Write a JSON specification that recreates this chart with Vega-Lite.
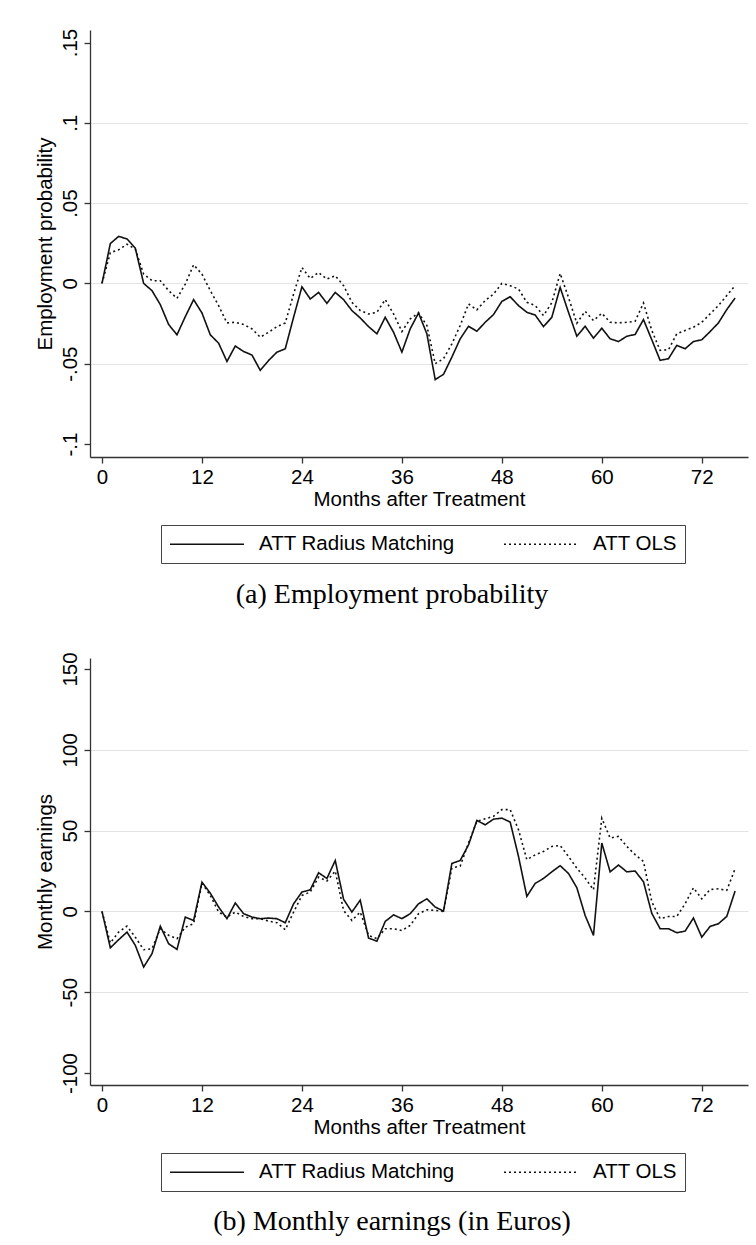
{
  "$schema": "https://vega.github.io/schema/vega-lite/v6.json",
  "background": "white",
  "padding": {"left": 34, "top": 28, "right": 8, "bottom": 1},
  "spacing": 42,
  "config": {
    "view": {"stroke": null},
    "font": "Liberation Sans",
    "axis": {
      "labelFont": "Liberation Sans", "titleFont": "Liberation Sans",
      "labelFontSize": 20.5, "titleFontSize": 20.5, "titleFontWeight": "normal",
      "labelColor": "#000", "titleColor": "#000",
      "domainColor": "#333", "domainWidth": 1.3, "tickColor": "#333", "tickWidth": 1.3, "tickSize": 6,
      "gridColor": "#e3e3e3", "gridWidth": 1.2
    },
    "legend": {"labelFont": "Liberation Sans"},
    "title": {"font": "Liberation Serif", "fontWeight": "normal"}
  },
  "datasets": {
    "emp": [
      {"m":0,"s":"ATT Radius Matching","v":0},{"m":1,"s":"ATT Radius Matching","v":0.0248},{"m":2,"s":"ATT Radius Matching","v":0.0293},{"m":3,"s":"ATT Radius Matching","v":0.0277},{"m":4,"s":"ATT Radius Matching","v":0.0219},{"m":5,"s":"ATT Radius Matching","v":0.0},{"m":6,"s":"ATT Radius Matching","v":-0.0045},{"m":7,"s":"ATT Radius Matching","v":-0.0132},{"m":8,"s":"ATT Radius Matching","v":-0.0256},{"m":9,"s":"ATT Radius Matching","v":-0.032},{"m":10,"s":"ATT Radius Matching","v":-0.0207},{"m":11,"s":"ATT Radius Matching","v":-0.0101},{"m":12,"s":"ATT Radius Matching","v":-0.0184},{"m":13,"s":"ATT Radius Matching","v":-0.032},{"m":14,"s":"ATT Radius Matching","v":-0.0372},{"m":15,"s":"ATT Radius Matching","v":-0.0486},{"m":16,"s":"ATT Radius Matching","v":-0.039},{"m":17,"s":"ATT Radius Matching","v":-0.0424},{"m":18,"s":"ATT Radius Matching","v":-0.0446},{"m":19,"s":"ATT Radius Matching","v":-0.0541},{"m":20,"s":"ATT Radius Matching","v":-0.048},{"m":21,"s":"ATT Radius Matching","v":-0.0428},{"m":22,"s":"ATT Radius Matching","v":-0.0407},{"m":23,"s":"ATT Radius Matching","v":-0.0211},{"m":24,"s":"ATT Radius Matching","v":-0.0021},{"m":25,"s":"ATT Radius Matching","v":-0.0097},{"m":26,"s":"ATT Radius Matching","v":-0.0056},{"m":27,"s":"ATT Radius Matching","v":-0.0124},{"m":28,"s":"ATT Radius Matching","v":-0.0056},{"m":29,"s":"ATT Radius Matching","v":-0.0101},{"m":30,"s":"ATT Radius Matching","v":-0.0169},{"m":31,"s":"ATT Radius Matching","v":-0.0215},{"m":32,"s":"ATT Radius Matching","v":-0.0269},{"m":33,"s":"ATT Radius Matching","v":-0.0314},{"m":34,"s":"ATT Radius Matching","v":-0.0211},{"m":35,"s":"ATT Radius Matching","v":-0.0304},{"m":36,"s":"ATT Radius Matching","v":-0.0428},{"m":37,"s":"ATT Radius Matching","v":-0.0283},{"m":38,"s":"ATT Radius Matching","v":-0.0184},{"m":39,"s":"ATT Radius Matching","v":-0.0314},{"m":40,"s":"ATT Radius Matching","v":-0.0599},{"m":41,"s":"ATT Radius Matching","v":-0.0566},{"m":42,"s":"ATT Radius Matching","v":-0.0459},{"m":43,"s":"ATT Radius Matching","v":-0.0345},{"m":44,"s":"ATT Radius Matching","v":-0.0267},{"m":45,"s":"ATT Radius Matching","v":-0.0298},{"m":46,"s":"ATT Radius Matching","v":-0.0242},{"m":47,"s":"ATT Radius Matching","v":-0.0194},{"m":48,"s":"ATT Radius Matching","v":-0.0112},{"m":49,"s":"ATT Radius Matching","v":-0.0083},{"m":50,"s":"ATT Radius Matching","v":-0.0138},{"m":51,"s":"ATT Radius Matching","v":-0.018},{"m":52,"s":"ATT Radius Matching","v":-0.0197},{"m":53,"s":"ATT Radius Matching","v":-0.0269},{"m":54,"s":"ATT Radius Matching","v":-0.0211},{"m":55,"s":"ATT Radius Matching","v":-0.0025},{"m":56,"s":"ATT Radius Matching","v":-0.018},{"m":57,"s":"ATT Radius Matching","v":-0.0329},{"m":58,"s":"ATT Radius Matching","v":-0.0267},{"m":59,"s":"ATT Radius Matching","v":-0.0341},{"m":60,"s":"ATT Radius Matching","v":-0.0279},{"m":61,"s":"ATT Radius Matching","v":-0.0345},{"m":62,"s":"ATT Radius Matching","v":-0.0362},{"m":63,"s":"ATT Radius Matching","v":-0.0329},{"m":64,"s":"ATT Radius Matching","v":-0.0318},{"m":65,"s":"ATT Radius Matching","v":-0.0225},{"m":66,"s":"ATT Radius Matching","v":-0.0351},{"m":67,"s":"ATT Radius Matching","v":-0.0479},{"m":68,"s":"ATT Radius Matching","v":-0.0469},{"m":69,"s":"ATT Radius Matching","v":-0.0386},{"m":70,"s":"ATT Radius Matching","v":-0.0407},{"m":71,"s":"ATT Radius Matching","v":-0.0362},{"m":72,"s":"ATT Radius Matching","v":-0.0351},{"m":73,"s":"ATT Radius Matching","v":-0.03},{"m":74,"s":"ATT Radius Matching","v":-0.0246},{"m":75,"s":"ATT Radius Matching","v":-0.0163},{"m":76,"s":"ATT Radius Matching","v":-0.0091},
      {"m":0,"s":"ATT OLS","v":0},{"m":1,"s":"ATT OLS","v":0.0192},{"m":2,"s":"ATT OLS","v":0.0209},{"m":3,"s":"ATT OLS","v":0.0244},{"m":4,"s":"ATT OLS","v":0.0213},{"m":5,"s":"ATT OLS","v":0.0058},{"m":6,"s":"ATT OLS","v":0.0017},{"m":7,"s":"ATT OLS","v":0.0017},{"m":8,"s":"ATT OLS","v":-0.0045},{"m":9,"s":"ATT OLS","v":-0.0093},{"m":10,"s":"ATT OLS","v":-0.0004},{"m":11,"s":"ATT OLS","v":0.0116},{"m":12,"s":"ATT OLS","v":0.0058},{"m":13,"s":"ATT OLS","v":-0.0045},{"m":14,"s":"ATT OLS","v":-0.0138},{"m":15,"s":"ATT OLS","v":-0.0246},{"m":16,"s":"ATT OLS","v":-0.0242},{"m":17,"s":"ATT OLS","v":-0.0256},{"m":18,"s":"ATT OLS","v":-0.0283},{"m":19,"s":"ATT OLS","v":-0.0335},{"m":20,"s":"ATT OLS","v":-0.0304},{"m":21,"s":"ATT OLS","v":-0.0269},{"m":22,"s":"ATT OLS","v":-0.0246},{"m":23,"s":"ATT OLS","v":-0.0066},{"m":24,"s":"ATT OLS","v":0.0099},{"m":25,"s":"ATT OLS","v":0.0031},{"m":26,"s":"ATT OLS","v":0.0068},{"m":27,"s":"ATT OLS","v":0.0027},{"m":28,"s":"ATT OLS","v":0.0048},{"m":29,"s":"ATT OLS","v":-0.0014},{"m":30,"s":"ATT OLS","v":-0.0118},{"m":31,"s":"ATT OLS","v":-0.0169},{"m":32,"s":"ATT OLS","v":-0.019},{"m":33,"s":"ATT OLS","v":-0.018},{"m":34,"s":"ATT OLS","v":-0.0101},{"m":35,"s":"ATT OLS","v":-0.019},{"m":36,"s":"ATT OLS","v":-0.03},{"m":37,"s":"ATT OLS","v":-0.0221},{"m":38,"s":"ATT OLS","v":-0.0184},{"m":39,"s":"ATT OLS","v":-0.0262},{"m":40,"s":"ATT OLS","v":-0.05},{"m":41,"s":"ATT OLS","v":-0.0469},{"m":42,"s":"ATT OLS","v":-0.0376},{"m":43,"s":"ATT OLS","v":-0.0262},{"m":44,"s":"ATT OLS","v":-0.0128},{"m":45,"s":"ATT OLS","v":-0.0165},{"m":46,"s":"ATT OLS","v":-0.0107},{"m":47,"s":"ATT OLS","v":-0.0066},{"m":48,"s":"ATT OLS","v":0.0},{"m":49,"s":"ATT OLS","v":-0.0014},{"m":50,"s":"ATT OLS","v":-0.0035},{"m":51,"s":"ATT OLS","v":-0.0118},{"m":52,"s":"ATT OLS","v":-0.0138},{"m":53,"s":"ATT OLS","v":-0.02},{"m":54,"s":"ATT OLS","v":-0.012},{"m":55,"s":"ATT OLS","v":0.0062},{"m":56,"s":"ATT OLS","v":-0.0087},{"m":57,"s":"ATT OLS","v":-0.0248},{"m":58,"s":"ATT OLS","v":-0.0174},{"m":59,"s":"ATT OLS","v":-0.0231},{"m":60,"s":"ATT OLS","v":-0.0186},{"m":61,"s":"ATT OLS","v":-0.0242},{"m":62,"s":"ATT OLS","v":-0.0246},{"m":63,"s":"ATT OLS","v":-0.0242},{"m":64,"s":"ATT OLS","v":-0.0236},{"m":65,"s":"ATT OLS","v":-0.0122},{"m":66,"s":"ATT OLS","v":-0.0293},{"m":67,"s":"ATT OLS","v":-0.0417},{"m":68,"s":"ATT OLS","v":-0.0413},{"m":69,"s":"ATT OLS","v":-0.0314},{"m":70,"s":"ATT OLS","v":-0.0293},{"m":71,"s":"ATT OLS","v":-0.0273},{"m":72,"s":"ATT OLS","v":-0.0242},{"m":73,"s":"ATT OLS","v":-0.019},{"m":74,"s":"ATT OLS","v":-0.0138},{"m":75,"s":"ATT OLS","v":-0.0076},{"m":76,"s":"ATT OLS","v":-0.0014}
    ],
    "earn": [
      {"m":0,"s":"ATT Radius Matching","v":0},{"m":1,"s":"ATT Radius Matching","v":-22.5},{"m":2,"s":"ATT Radius Matching","v":-17.5},{"m":3,"s":"ATT Radius Matching","v":-12.8},{"m":4,"s":"ATT Radius Matching","v":-21},{"m":5,"s":"ATT Radius Matching","v":-34.4},{"m":6,"s":"ATT Radius Matching","v":-26.2},{"m":7,"s":"ATT Radius Matching","v":-9.1},{"m":8,"s":"ATT Radius Matching","v":-20},{"m":9,"s":"ATT Radius Matching","v":-23.5},{"m":10,"s":"ATT Radius Matching","v":-3.5},{"m":11,"s":"ATT Radius Matching","v":-5.6},{"m":12,"s":"ATT Radius Matching","v":18.1},{"m":13,"s":"ATT Radius Matching","v":11.3},{"m":14,"s":"ATT Radius Matching","v":2.7},{"m":15,"s":"ATT Radius Matching","v":-4.5},{"m":16,"s":"ATT Radius Matching","v":5.2},{"m":17,"s":"ATT Radius Matching","v":-1.4},{"m":18,"s":"ATT Radius Matching","v":-3.5},{"m":19,"s":"ATT Radius Matching","v":-4.5},{"m":20,"s":"ATT Radius Matching","v":-4.1},{"m":21,"s":"ATT Radius Matching","v":-4.5},{"m":22,"s":"ATT Radius Matching","v":-7},{"m":23,"s":"ATT Radius Matching","v":4.7},{"m":24,"s":"ATT Radius Matching","v":12},{"m":25,"s":"ATT Radius Matching","v":13.4},{"m":26,"s":"ATT Radius Matching","v":23.9},{"m":27,"s":"ATT Radius Matching","v":20.4},{"m":28,"s":"ATT Radius Matching","v":31.5},{"m":29,"s":"ATT Radius Matching","v":7.5},{"m":30,"s":"ATT Radius Matching","v":-0.4},{"m":31,"s":"ATT Radius Matching","v":7},{"m":32,"s":"ATT Radius Matching","v":-16.5},{"m":33,"s":"ATT Radius Matching","v":-18.4},{"m":34,"s":"ATT Radius Matching","v":-6.2},{"m":35,"s":"ATT Radius Matching","v":-2.1},{"m":36,"s":"ATT Radius Matching","v":-4.5},{"m":37,"s":"ATT Radius Matching","v":-1.4},{"m":38,"s":"ATT Radius Matching","v":4.7},{"m":39,"s":"ATT Radius Matching","v":7.8},{"m":40,"s":"ATT Radius Matching","v":2.7},{"m":41,"s":"ATT Radius Matching","v":0.2},{"m":42,"s":"ATT Radius Matching","v":29.7},{"m":43,"s":"ATT Radius Matching","v":31.5},{"m":44,"s":"ATT Radius Matching","v":41.2},{"m":45,"s":"ATT Radius Matching","v":56.3},{"m":46,"s":"ATT Radius Matching","v":53.6},{"m":47,"s":"ATT Radius Matching","v":57.1},{"m":48,"s":"ATT Radius Matching","v":57.7},{"m":49,"s":"ATT Radius Matching","v":55.3},{"m":50,"s":"ATT Radius Matching","v":34},{"m":51,"s":"ATT Radius Matching","v":9.3},{"m":52,"s":"ATT Radius Matching","v":17.3},{"m":53,"s":"ATT Radius Matching","v":20.4},{"m":54,"s":"ATT Radius Matching","v":24.5},{"m":55,"s":"ATT Radius Matching","v":28.3},{"m":56,"s":"ATT Radius Matching","v":23.5},{"m":57,"s":"ATT Radius Matching","v":14.7},{"m":58,"s":"ATT Radius Matching","v":-2.5},{"m":59,"s":"ATT Radius Matching","v":-14.8},{"m":60,"s":"ATT Radius Matching","v":42.3},{"m":61,"s":"ATT Radius Matching","v":24.5},{"m":62,"s":"ATT Radius Matching","v":28.7},{"m":63,"s":"ATT Radius Matching","v":24.5},{"m":64,"s":"ATT Radius Matching","v":25},{"m":65,"s":"ATT Radius Matching","v":18.4},{"m":66,"s":"ATT Radius Matching","v":-1.2},{"m":67,"s":"ATT Radius Matching","v":-10.7},{"m":68,"s":"ATT Radius Matching","v":-10.7},{"m":69,"s":"ATT Radius Matching","v":-13.2},{"m":70,"s":"ATT Radius Matching","v":-12.2},{"m":71,"s":"ATT Radius Matching","v":-4.1},{"m":72,"s":"ATT Radius Matching","v":-15.9},{"m":73,"s":"ATT Radius Matching","v":-9.3},{"m":74,"s":"ATT Radius Matching","v":-7.6},{"m":75,"s":"ATT Radius Matching","v":-3.1},{"m":76,"s":"ATT Radius Matching","v":12.6},
      {"m":0,"s":"ATT OLS","v":0},{"m":1,"s":"ATT OLS","v":-19.5},{"m":2,"s":"ATT OLS","v":-12.8},{"m":3,"s":"ATT OLS","v":-9.1},{"m":4,"s":"ATT OLS","v":-15.9},{"m":5,"s":"ATT OLS","v":-23.7},{"m":6,"s":"ATT OLS","v":-23.1},{"m":7,"s":"ATT OLS","v":-10.7},{"m":8,"s":"ATT OLS","v":-14.8},{"m":9,"s":"ATT OLS","v":-16.9},{"m":10,"s":"ATT OLS","v":-9.7},{"m":11,"s":"ATT OLS","v":-7.6},{"m":12,"s":"ATT OLS","v":17.5},{"m":13,"s":"ATT OLS","v":9.9},{"m":14,"s":"ATT OLS","v":-0.4},{"m":15,"s":"ATT OLS","v":-3.5},{"m":16,"s":"ATT OLS","v":-0.4},{"m":17,"s":"ATT OLS","v":-3.1},{"m":18,"s":"ATT OLS","v":-4.5},{"m":19,"s":"ATT OLS","v":-4.5},{"m":20,"s":"ATT OLS","v":-6},{"m":21,"s":"ATT OLS","v":-7},{"m":22,"s":"ATT OLS","v":-11.3},{"m":23,"s":"ATT OLS","v":-0.4},{"m":24,"s":"ATT OLS","v":9.9},{"m":25,"s":"ATT OLS","v":12},{"m":26,"s":"ATT OLS","v":21.2},{"m":27,"s":"ATT OLS","v":18.8},{"m":28,"s":"ATT OLS","v":25},{"m":29,"s":"ATT OLS","v":0.6},{"m":30,"s":"ATT OLS","v":-5.6},{"m":31,"s":"ATT OLS","v":-0.4},{"m":32,"s":"ATT OLS","v":-14.8},{"m":33,"s":"ATT OLS","v":-16.9},{"m":34,"s":"ATT OLS","v":-10.7},{"m":35,"s":"ATT OLS","v":-10.7},{"m":36,"s":"ATT OLS","v":-11.8},{"m":37,"s":"ATT OLS","v":-8.7},{"m":38,"s":"ATT OLS","v":-1.4},{"m":39,"s":"ATT OLS","v":1},{"m":40,"s":"ATT OLS","v":0.6},{"m":41,"s":"ATT OLS","v":0},{"m":42,"s":"ATT OLS","v":27},{"m":43,"s":"ATT OLS","v":28},{"m":44,"s":"ATT OLS","v":42.3},{"m":45,"s":"ATT OLS","v":55.7},{"m":46,"s":"ATT OLS","v":57.3},{"m":47,"s":"ATT OLS","v":58.8},{"m":48,"s":"ATT OLS","v":63},{"m":49,"s":"ATT OLS","v":63},{"m":50,"s":"ATT OLS","v":50.5},{"m":51,"s":"ATT OLS","v":32},{"m":52,"s":"ATT OLS","v":35},{"m":53,"s":"ATT OLS","v":37.1},{"m":54,"s":"ATT OLS","v":40.2},{"m":55,"s":"ATT OLS","v":40.8},{"m":56,"s":"ATT OLS","v":34},{"m":57,"s":"ATT OLS","v":26.8},{"m":58,"s":"ATT OLS","v":20.6},{"m":59,"s":"ATT OLS","v":13.4},{"m":60,"s":"ATT OLS","v":57.7},{"m":61,"s":"ATT OLS","v":45.4},{"m":62,"s":"ATT OLS","v":46.4},{"m":63,"s":"ATT OLS","v":40.2},{"m":64,"s":"ATT OLS","v":35.1},{"m":65,"s":"ATT OLS","v":30.9},{"m":66,"s":"ATT OLS","v":6},{"m":67,"s":"ATT OLS","v":-4.5},{"m":68,"s":"ATT OLS","v":-3.1},{"m":69,"s":"ATT OLS","v":-3.1},{"m":70,"s":"ATT OLS","v":4.7},{"m":71,"s":"ATT OLS","v":14.6},{"m":72,"s":"ATT OLS","v":7.8},{"m":73,"s":"ATT OLS","v":13.6},{"m":74,"s":"ATT OLS","v":14},{"m":75,"s":"ATT OLS","v":13},{"m":76,"s":"ATT OLS","v":26.4}
    ]
  },
  "vconcat": [
    {
      "width": 658,
      "height": 427,
      "data": {"name": "emp"},
      "title": {"text": "(a) Employment probability", "orient": "bottom", "fontSize": 28, "offset": 17, "dx": -27, "color": "#000", "anchor": "middle"},
      "mark": {"type": "line", "strokeWidth": 1.6, "color": "#111"},
      "encoding": {
        "x": {"field": "m", "type": "quantitative", "scale": {"domain": [-1.44, 77.55], "nice": false, "zero": false},
              "axis": {"values": [0, 12, 24, 36, 48, 60, 72], "title": "Months after Treatment", "grid": false, "labelPadding": 4, "titlePadding": 2}},
        "y": {"field": "v", "type": "quantitative", "scale": {"domain": [-0.1081, 0.1578], "nice": false, "zero": false},
              "axis": {"values": [-0.1, -0.05, 0, 0.05, 0.1, 0.15], "title": "Employment probability",
                       "labelExpr": "(datum.value < 0 ? '-' : '') + replace(format(abs(datum.value), '.2~f'), '0.', '.')",
                       "labelAngle": 270, "labelAlign": "center", "labelBaseline": "bottom", "labelPadding": 4, "titlePadding": 5,
                       "gridOpacity": {"condition": {"test": "datum.value > 0.12 || datum.value < -0.08", "value": 0}, "value": 1}}},
        "strokeDash": {"field": "s", "type": "nominal", "sort": null,
                       "scale": {"domain": ["ATT Radius Matching", "ATT OLS"], "range": [[1, 0], [2, 3]]},
                       "legend": {"title": null, "orient": "none", "legendX": 71, "legendY": 495, "direction": "horizontal",
                                  "symbolType": "M-1,0H6.4", "symbolSize": 400,
                                  "symbolStrokeWidth": 1.6, "symbolStrokeColor": "#111", "symbolFillColor": "transparent",
                                  "labelFontSize": 20.5, "labelColor": "#000", "labelLimit": 0,
                                  "strokeColor": "#444", "padding": 8, "columnPadding": 45, "labelOffset": 68}}
      }
    },
    {
      "width": 658,
      "height": 427,
      "data": {"name": "earn"},
      "title": {"text": "(b) Monthly earnings (in Euros)", "orient": "bottom", "fontSize": 28, "offset": 16, "dx": -27, "color": "#000", "anchor": "middle"},
      "mark": {"type": "line", "strokeWidth": 1.6, "color": "#111"},
      "encoding": {
        "x": {"field": "m", "type": "quantitative", "scale": {"domain": [-1.44, 77.55], "nice": false, "zero": false},
              "axis": {"values": [0, 12, 24, 36, 48, 60, 72], "title": "Months after Treatment", "grid": false, "labelPadding": 4, "titlePadding": 2}},
        "y": {"field": "v", "type": "quantitative", "scale": {"domain": [-107.4, 156.8], "nice": false, "zero": false},
              "axis": {"values": [-100, -50, 0, 50, 100, 150], "title": "Monthly earnings",
                       "labelExpr": "(datum.value < 0 ? '-' : '') + format(abs(datum.value), 'd')",
                       "labelAngle": 270, "labelAlign": "center", "labelBaseline": "bottom", "labelPadding": 4, "titlePadding": 5,
                       "gridOpacity": {"condition": {"test": "datum.value > 120 || datum.value < -80", "value": 0}, "value": 1}}},
        "strokeDash": {"field": "s", "type": "nominal", "sort": null,
                       "scale": {"domain": ["ATT Radius Matching", "ATT OLS"], "range": [[1, 0], [2, 3]]},
                       "legend": {"title": null, "orient": "none", "legendX": 71, "legendY": 495, "direction": "horizontal",
                                  "symbolType": "M-1,0H6.4", "symbolSize": 400,
                                  "symbolStrokeWidth": 1.6, "symbolStrokeColor": "#111", "symbolFillColor": "transparent",
                                  "labelFontSize": 20.5, "labelColor": "#000", "labelLimit": 0,
                                  "strokeColor": "#444", "padding": 8, "columnPadding": 45, "labelOffset": 68}}
      }
    }
  ],
  "resolve": {"scale": {"strokeDash": "independent"}}
}
